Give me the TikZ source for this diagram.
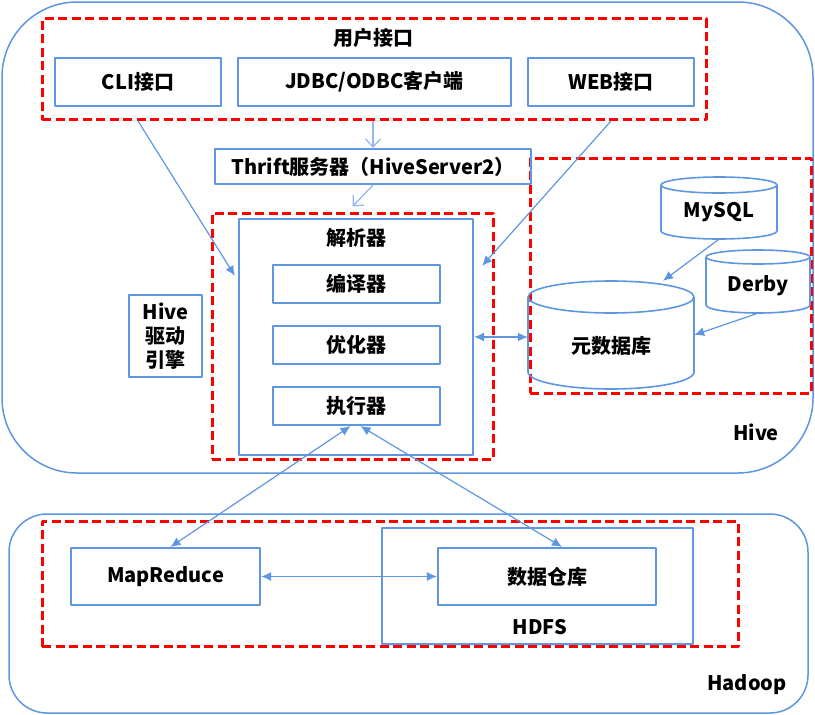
\documentclass[tikz,border=0pt]{standalone}
\usepackage{fontspec}
\setmainfont{Noto Sans CJK SC}
\usetikzlibrary{arrows.meta}
\definecolor{hblue}{RGB}{95,150,225}
\definecolor{lblue}{RGB}{150,185,235}

\begin{document}
\begin{tikzpicture}[x=1pt, y=-1pt, line join=round,
  font=\fontsize{20}{24}\selectfont\bfseries,
  box/.style={draw=hblue, line width=2.2pt, inner sep=0pt},
  cyl/.style={hblue, line width=1.6pt},
  redbox/.style={draw=red, line width=3pt, dash pattern=on 9pt off 4.5pt, inner sep=0pt},
  spot/.style={inner sep=0pt},
  link/.style={hblue, line width=1.2pt, -{Latex[length=10pt,width=9pt]}},
  dlink/.style={hblue, line width=1.2pt, {Latex[length=10pt,width=9pt]}-{Latex[length=10pt,width=9pt]}},
  feed/.style={lblue, line width=1.3pt, -{Straight Barb[length=8pt,width=15pt]}}]

  % ---- outer frames: Hive / Hadoop ----
  \draw[hblue, line width=1.5pt, rounded corners=75pt] (2,2) rectangle (813,473);
  \draw[hblue, line width=1.5pt, rounded corners=38pt] (9,514) rectangle (808,713);
  \node[spot] at (756,432) {Hive};
  \node[spot] at (747,685) {Hadoop};

  % ---- red dashed groups ----
  \node[redbox, minimum width=664pt, minimum height=101pt] (uibox) at (374,69) {};
  \node[redbox, minimum width=281pt, minimum height=246pt] (parsebox) at (352.5,336) {};
  \node[redbox, minimum width=281pt, minimum height=235pt] (metabox) at (670.5,275.5) {};
  \node[redbox, minimum width=696pt, minimum height=125pt] (hdpbox) at (390,584) {};

  % ---- user interfaces ----
  \node[spot] at (373,38) {用户接口};
  \node[box, minimum width=166pt, minimum height=48pt] (cli) at (138,82) {CLI接口};
  \node[box, minimum width=273pt, minimum height=48pt] (jdbc) at (374.5,82) {JDBC/ODBC客户端};
  \node[box, minimum width=166pt, minimum height=48pt] (web) at (611,82) {WEB接口};
  \node[box, minimum width=316pt, minimum height=35pt] (thrift) at (373,166.5) {Thrift服务器（HiveServer2）};

  % ---- driver ----
  \node[box, minimum width=234pt, minimum height=236pt] (parser) at (356,337) {};
  \node[spot] at (356,238) {解析器};
  \node[box, minimum width=167pt, minimum height=38pt] (cmp) at (356.5,284) {编译器};
  \node[box, minimum width=167pt, minimum height=38pt] (opt) at (356.5,345) {优化器};
  \node[box, minimum width=167pt, minimum height=38pt] (exe) at (356.5,406) {执行器};
  \node[box, minimum width=73pt, minimum height=82pt, align=center] (driver) at (165.5,336) {Hive\\驱动\\引擎};

  % ---- metastore cylinders ----
  \node[spot, minimum width=166pt, minimum height=108pt] (meta) at (611,335) {};
  \draw[cyl] (611,297) ellipse [x radius=83, y radius=16];
  \draw[cyl] (528,297) -- (528,372) arc[start angle=180, end angle=0, x radius=83, y radius=17] -- (694,297);
  \node[spot] at ([yshift=-11pt]meta.center) {元数据库};

  \node[spot, minimum width=116pt, minimum height=62pt] (mysql) at (719,208) {};
  \draw[cyl] (719,185) ellipse [x radius=58, y radius=8];
  \draw[cyl] (661,185) -- (661,231) arc[start angle=180, end angle=0, x radius=58, y radius=8] -- (777,185);
  \node[spot] at ([yshift=-4pt]mysql.center) {MySQL};

  \node[spot, minimum width=104pt, minimum height=63pt] (derby) at (758,281.5) {};
  \draw[cyl] (758,257) ellipse [x radius=52, y radius=7];
  \draw[cyl] (706,257) -- (706,305) arc[start angle=180, end angle=0, x radius=52, y radius=8] -- (810,257);
  \node[spot] at ([yshift=-4pt]derby.center) {Derby};

  % ---- hadoop ----
  \node[box, minimum width=189pt, minimum height=57pt] (mr) at (165.5,576.5) {MapReduce};
  \node[box, minimum width=311pt, minimum height=116pt] (hdfs) at (537.5,586) {};
  \node[spot] at (540,627) {HDFS};
  \node[box, minimum width=218pt, minimum height=57pt] (dw) at (547,576.5) {数据仓库};

  % ---- connectors ----
  \draw[feed] (uibox.south -| thrift.north) -- (thrift.north);
  \draw[feed] (thrift.south) -- ([yshift=5pt]parsebox.north);
  \draw[link] (cli.south |- uibox.south) -- ([xshift=-3pt,yshift=-58pt]parser.north west);
  \draw[link] (web.south |- uibox.south) -- ([xshift=8pt,yshift=-48pt]parser.north east);
  \draw[dlink] (parser.east) -- (parser.east -| meta.west);
  \draw[link] (mysql.south) -- ([xshift=52pt]meta.north);
  \draw[link] (derby.south) -- (meta.east);
  \draw[dlink] ([xshift=-6pt]exe.south) -- ([xshift=5pt]mr.north);
  \draw[dlink] ([xshift=4pt]exe.south) -- ([xshift=15pt]dw.north);
  \draw[dlink] (mr.east) -- (dw.west);

  \path[use as bounding box] (0,0) rectangle (815,715);
\end{tikzpicture}
\end{document}
